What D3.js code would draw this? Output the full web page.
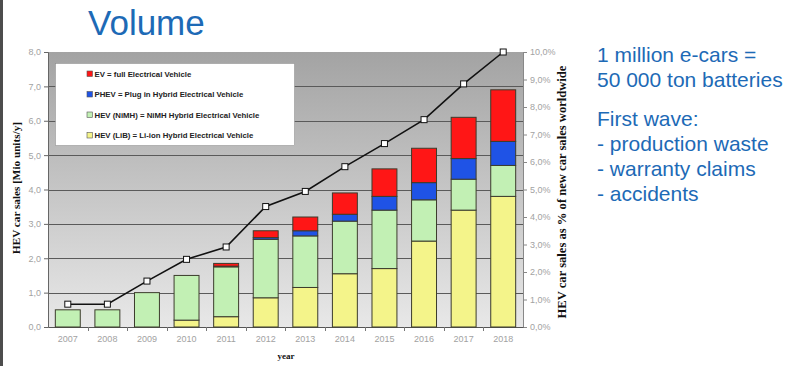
<!DOCTYPE html>
<html>
<head>
<meta charset="utf-8">
<script src="https://cdn.jsdelivr.net/npm/d3@7"></script>
<style>
  body { margin: 0; background: #fff; }
  svg { display: block; }
</style>
</head>
<body>
<svg id="chart" width="800" height="366"></svg>
<script>
// values (Mio units per year, stacked)
const years = ["2007", "2008", "2009", "2010", "2011", "2012", "2013", "2014", "2015", "2016", "2017", "2018"];
const hevLib  = [0, 0, 0, 0.2, 0.3, 0.85, 1.15, 1.55, 1.7, 2.5, 3.4, 3.8];
const hevNimh = [0.5, 0.5, 1.0, 1.3, 1.45, 1.7, 1.5, 1.53, 1.7, 1.2, 0.9, 0.9];
const phev    = [0, 0, 0, 0, 0.02, 0.05, 0.15, 0.2, 0.4, 0.5, 0.6, 0.7];
const ev      = [0, 0, 0, 0, 0.08, 0.2, 0.4, 0.62, 0.8, 1.0, 1.2, 1.5];
// share of new car sales worldwide (%)
const sharePct = [0.83, 0.83, 1.67, 2.46, 2.91, 4.38, 4.93, 5.83, 6.67, 7.54, 8.84, 10.0];

const leftTicks = [0, 1, 2, 3, 4, 5, 6, 7, 8];
const rightTicks = [0, 1, 2, 3, 4, 5, 6, 7, 8, 9, 10];

const seriesKeys = ["lib", "nimh", "phev", "ev"];
const seriesColors = { lib: "#f4f48a", nimh: "#c2f0b4", phev: "#1f53e6", ev: "#ff1616" };
const legendItems = [
  { key: "ev", label: "EV = full Electrical Vehicle" },
  { key: "phev", label: "PHEV = Plug in Hybrid Electrical Vehicle" },
  { key: "nimh", label: "HEV (NiMH) = NiMH Hybrid Electrical Vehicle" },
  { key: "lib", label: "HEV (LiB) =  Li-ion Hybrid Electrical Vehicle" }
];
const sideLines = [
  "1 million e-cars =", "50 000 ton batteries",
  "First wave:", "- production waste", "- warranty claims", "- accidents"
];

const rows = years.map((y, i) => ({ year: y, lib: hevLib[i], nimh: hevNimh[i], phev: phev[i], ev: ev[i] }));

const svg = d3.select("#chart");
const plot = { left: 48, right: 523, top: 52, bottom: 327 };

// slide border on the left
svg.append("rect").attr("x", 0).attr("y", 0).attr("width", 3).attr("height", 366).attr("fill", "#4d4d4d");

// title
svg.append("text").attr("x", 88).attr("y", 35)
  .attr("font-family", "Liberation Sans, Arial, sans-serif").attr("font-size", 35)
  .attr("fill", "#1d6ab6").text("Volume");

const x = d3.scaleBand().domain(years).range([plot.left, plot.right])
  .paddingInner(0.37).paddingOuter(0.185);
const yL = d3.scaleLinear().domain([0, 8]).range([plot.bottom, plot.top]);
const yR = d3.scaleLinear().domain([0, 10]).range([plot.bottom, plot.top]);

// plot background gradient
const defs = svg.append("defs");
const grad = defs.append("linearGradient").attr("id", "bg").attr("x1", 0).attr("y1", 0).attr("x2", 0).attr("y2", 1);
grad.append("stop").attr("offset", "0%").attr("stop-color", "#a3a3a3");
grad.append("stop").attr("offset", "100%").attr("stop-color", "#e8e8e8");
svg.append("rect").attr("x", plot.left).attr("y", plot.top)
  .attr("width", plot.right - plot.left).attr("height", plot.bottom - plot.top)
  .attr("fill", "url(#bg)");

// gridlines
svg.append("g").selectAll("line").data(leftTicks.slice(1, -1)).enter().append("line")
  .attr("x1", plot.left).attr("x2", plot.right)
  .attr("y1", d => Math.round(yL(d)) + 0.5).attr("y2", d => Math.round(yL(d)) + 0.5)
  .attr("stroke", "#5a5a5a").attr("stroke-width", 1);

const comma = f => v => f(v).replace(".", ",");
const tickFont = g => g.selectAll("text")
  .attr("font-family", "Liberation Sans, Arial, sans-serif").attr("font-size", 9).attr("fill", "#a2a2a2");

// left axis
const axL = svg.append("g").attr("transform", `translate(${plot.left},0)`)
  .call(d3.axisLeft(yL).tickValues(leftTicks).tickFormat(comma(d3.format(".1f"))).tickSize(4).tickPadding(3));
axL.select(".domain").attr("stroke", "#666");
axL.selectAll(".tick line").attr("stroke", "#666");
tickFont(axL);

// right axis
const axR = svg.append("g").attr("transform", `translate(${plot.right},0)`)
  .call(d3.axisRight(yR).tickValues(rightTicks).tickFormat(v => comma(d3.format(".1f"))(v) + "%").tickSize(4).tickPadding(3));
axR.select(".domain").attr("stroke", "#888");
axR.selectAll(".tick line").attr("stroke", "#888");
tickFont(axR);

// bottom axis, ticks sit between categories
const axB = svg.append("g").attr("transform", `translate(0,${plot.bottom})`)
  .call(d3.axisBottom(x).tickSize(0).tickPadding(9));
axB.select(".domain").attr("stroke", "#555");
tickFont(axB);
svg.append("g").selectAll("line").data(years.slice(1)).enter().append("line")
  .attr("x1", d => Math.round(x(d) - x.step() * x.paddingInner() / 2) + 0.5)
  .attr("x2", d => Math.round(x(d) - x.step() * x.paddingInner() / 2) + 0.5)
  .attr("y1", plot.bottom).attr("y2", plot.bottom + 4)
  .attr("stroke", "#777");

// stacked bars
const stacked = d3.stack().keys(seriesKeys)(rows);
const layers = svg.append("g").selectAll("g").data(stacked).enter().append("g")
  .attr("fill", d => seriesColors[d.key]);
layers.selectAll("rect").data(d => d.filter(s => s[1] - s[0] > 0)).enter().append("rect")
  .attr("x", d => x(d.data.year))
  .attr("y", d => yL(d[1]))
  .attr("width", x.bandwidth())
  .attr("height", d => yL(d[0]) - yL(d[1]))
  .attr("stroke", "#3c3c2c").attr("stroke-width", 1);

// share line
const line = d3.line().x((d, i) => x(years[i]) + x.bandwidth() / 2).y(d => yR(d));
svg.append("path").datum(sharePct).attr("d", line)
  .attr("fill", "none").attr("stroke", "#111").attr("stroke-width", 1.6);
svg.append("g").selectAll("rect").data(sharePct).enter().append("rect")
  .attr("x", (d, i) => x(years[i]) + x.bandwidth() / 2 - 3)
  .attr("y", d => yR(d) - 3)
  .attr("width", 6).attr("height", 6)
  .attr("fill", "#fff").attr("stroke", "#111").attr("stroke-width", 1);

// legend
const lg = svg.append("g");
lg.append("rect").attr("x", 55.5).attr("y", 63.5).attr("width", 239).attr("height", 82)
  .attr("fill", "#fff").attr("stroke", "#888").attr("stroke-width", 0.5);
const li = lg.selectAll("g").data(legendItems).enter().append("g")
  .attr("transform", (d, i) => `translate(87,${71 + i * 20.5})`);
li.append("rect").attr("x", 0).attr("y", 0).attr("width", 5.5).attr("height", 5.5)
  .attr("fill", d => seriesColors[d.key]).attr("stroke", "#555").attr("stroke-width", 0.6);
li.append("text").attr("x", 7.5).attr("y", 5.8)
  .attr("font-family", "Liberation Sans, Arial, sans-serif").attr("font-size", 7.8)
  .attr("font-weight", "bold").attr("fill", "#222")
  .text(d => d.label);

// axis titles
const serif = "Liberation Serif, Times New Roman, serif";
svg.append("text").attr("transform", "translate(20,188) rotate(-90)")
  .attr("text-anchor", "middle").attr("font-family", serif).attr("font-weight", "bold")
  .attr("font-size", 11.2).attr("fill", "#111").text("HEV car sales [Mio units/y]");
svg.append("text").attr("transform", "translate(566,192) rotate(-90)")
  .attr("text-anchor", "middle").attr("font-family", serif).attr("font-weight", "bold")
  .attr("font-size", 12.6).attr("fill", "#111").text("HEV car sales as % of new car sales worldwide");
svg.append("text").attr("x", 286).attr("y", 359)
  .attr("text-anchor", "middle").attr("font-family", serif).attr("font-weight", "bold")
  .attr("font-size", 9).attr("fill", "#111").text("year");

// side notes
const sideY = [62, 87, 126, 151, 176, 201];
svg.append("g").selectAll("text").data(sideLines).enter().append("text")
  .attr("x", 597).attr("y", (d, i) => sideY[i])
  .attr("font-family", "Liberation Sans, Arial, sans-serif").attr("font-size", 21)
  .attr("fill", "#1d6ab6").text(d => d);
</script>
</body>
</html>
